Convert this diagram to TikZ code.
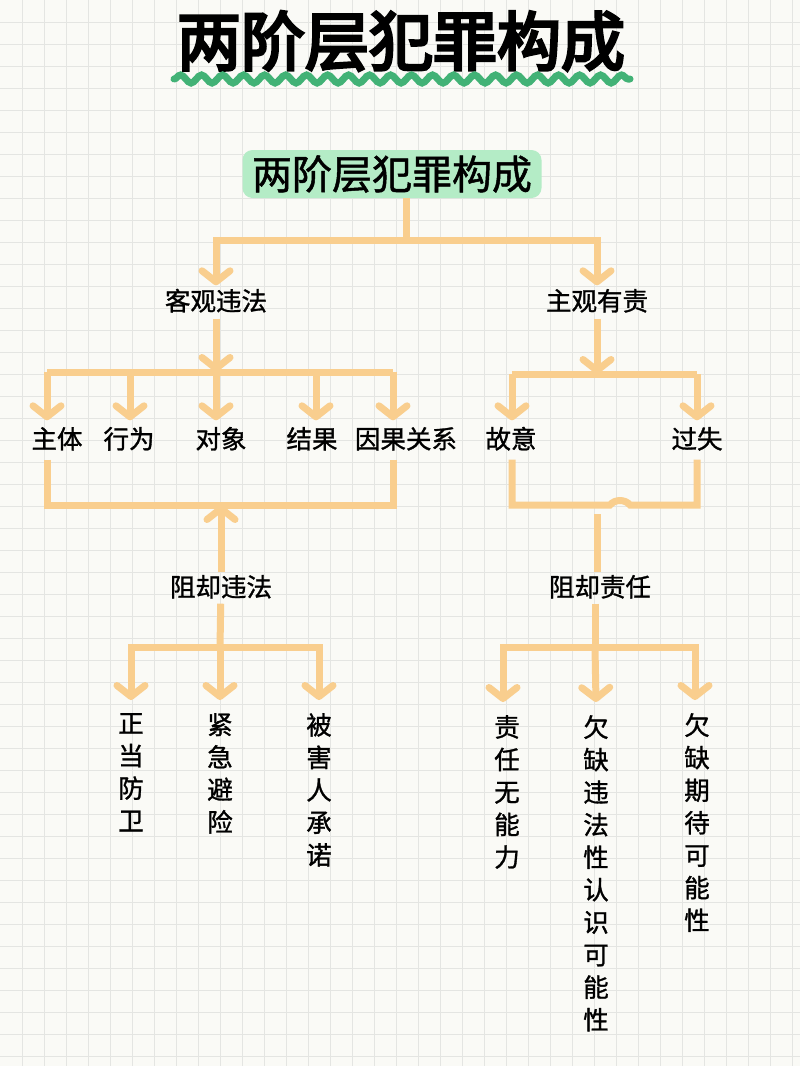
\documentclass[tikz,border=0pt]{standalone}
\usepackage{fontspec}
\newfontfamily\cjk[FakeBold=1.2]{Noto Sans CJK SC}
\newfontfamily\cjkheavy[FakeBold=4.5]{Noto Sans CJK SC}
\usepackage{tikz}
\usetikzlibrary{arrows.meta,positioning,decorations.pathmorphing}
\definecolor{paper}{RGB}{250,250,246}
\definecolor{gridgray}{RGB}{228,229,226}
\definecolor{peach}{RGB}{249,206,142}
\definecolor{mint}{RGB}{180,236,198}
\definecolor{wavegreen}{RGB}{66,178,118}
\tikzset{
    %Define standard arrow tip
    >={Straight Barb[length=11pt,width=28pt,round]},
    %Define style for the title
    headline/.style={
           inner sep=0pt,
           font=\cjkheavy\fontsize{64}{72}\selectfont,
           text=black},
    wave/.style={
           draw=wavegreen,
           line width=7pt,
           line cap=round,
           decorate,
           decoration={snake, segment length=21pt, amplitude=4pt}},
    %Define style for boxes
    rootbox/.style={
           rectangle,
           rounded corners=10pt,
           fill=mint,
           minimum width=299pt,
           minimum height=48pt,
           inner sep=0pt,
           font=\cjk\fontsize{40}{46}\selectfont,
           text centered},
    branch/.style={
           inner sep=0pt,
           text height=21pt,
           text depth=4pt,
           font=\cjk\fontsize{25.5}{30}\selectfont},
    leaf/.style={
           branch},
    vleaf/.style={
           inner sep=0pt,
           align=center,
           font=\cjk\fontsize{25.5}{32.5}\selectfont},
    % Define line styles
    link/.style={
           draw=peach,
           line width=7pt},
    gridline/.style={
           draw=gridgray,
           line width=1pt}
}
\begin{document}
\begin{tikzpicture}[x=1pt,y=-1pt]

 %paper
\fill[paper] (0,0) rectangle (800,1066);
\useasboundingbox (0,0) rectangle (800,1066);
\foreach \g in {22,44,...,792} \draw[gridline] (\g,0) -- (\g,1066);
\foreach \g in {22,44,...,1056} \draw[gridline] (0,\g) -- (800,\g);

 %title
\node[headline](head) at (401,41){两阶层犯罪构成};
\draw[wave] (174,79) -- (630,79);

 %nodes
\node[rootbox](root) at (392,174){两阶层犯罪构成};
\coordinate (split) at (406,240);
\node[branch](obj) at (216,302){客观违法};
\node[branch](subj) at (597,302){主观有责};
\draw[link] (root.south -| split) -- (split);
\draw[link,->,shorten >=4pt] (split) -| (obj.north);
\draw[link,->,shorten >=4pt] (split) -| (subj.north);

 %objective side
\coordinate (objbar) at (216,372);
\foreach \n/\x in {1/47,2/130,3/216,4/316,5/393} \coordinate (o\n) at (\x,372);
\node[leaf](zhuti) at (57,440){主体};
\node[leaf](xingwei) at (129,440){行为};
\node[leaf](duixiang) at (221,440){对象};
\node[leaf](jieguo) at (312,440){结果};
\node[leaf](yinguo) at (406,440){因果关系};
\draw[link,->,shorten <=4pt] (obj) -- (objbar);
\draw[link] (o1) -- (o5);
\foreach \n/\m in {1/zhuti,2/xingwei,3/duixiang,4/jieguo,5/yinguo}
  \draw[link,->,shorten >=7pt] (o\n) -- (o\n |- \m.north);
\coordinate (objlow) at (221,505);
\draw[link,shorten <=7pt,shorten >=7pt] (o1 |- zhuti.south) |- (objlow) -| (o5 |- yinguo.south);
\node[branch](blockobj) at (221,588){阻却违法};
\draw[link,->,shorten <=3pt] (blockobj) -- (objlow);

 %subjective side
\coordinate (subjbar) at (597,374);
\coordinate (g1) at (512,374);
\coordinate (g2) at (697,374);
\node[leaf](guyi) at (511,440){故意};
\node[leaf](guoshi) at (697,440){过失};
\draw[link,->,shorten <=4pt] (subj) -- (subjbar);
\draw[link] (g1) -- (g2);
\draw[link,->,shorten >=7pt] (g1) -- (g1 |- guyi.north);
\draw[link,->,shorten >=7pt] (g2) -- (g2 |- guoshi.north);
\coordinate (bumpl) at (610,505);
\coordinate (bumpr) at (630,505);
\draw[link,shorten <=7pt,shorten >=7pt] (g1 |- guyi.south) |- (bumpl) to[bend left=50] (bumpr) -| (g2 |- guoshi.south);
\node[branch](blocksubj) at (600,588){阻却责任};
\coordinate (gap) at (597,514);
\draw[link,shorten <=3pt] (blocksubj.north -| gap) -- (gap);

 %defences against wrongfulness
\coordinate (z1) at (220,647);
\coordinate (t1) at (131,700);
\coordinate (t2) at (220,700);
\coordinate (t3) at (319,700);
\node[vleaf, below=13pt of t1](zhengdang){正\\当\\防\\卫};
\node[vleaf, below=13pt of t2](jinji){紧\\急\\避\\险};
\node[vleaf, below=13pt of t3](beihai){被\\害\\人\\承\\诺};
\draw[link,shorten <=3pt] (blockobj) -- (z1);
\draw[link,->] (z1) -| (t1);
\draw[link,->] (z1) -- (t2);
\draw[link,->] (z1) -| (t3);

 %defences against culpability
\coordinate (z2) at (595,647);
\coordinate (t4) at (503,702);
\coordinate (t5) at (596,702);
\coordinate (t6) at (695,700);
\node[vleaf, below=13pt of t4, xshift=4pt](wuneng){责\\任\\无\\能\\力};
\node[vleaf, below=13pt of t5](weifa){欠\\缺\\违\\法\\性\\认\\识\\可\\能\\性};
\node[vleaf, below=13pt of t6, xshift=2pt](qidai){欠\\缺\\期\\待\\可\\能\\性};
\draw[link,shorten <=3pt] (blocksubj.south -| z2) -- (z2);
\draw[link,->] (z2) -| (t4);
\draw[link,->] (z2) -- (t5);
\draw[link,->] (z2) -| (t6);
\end{tikzpicture}
\end{document}
